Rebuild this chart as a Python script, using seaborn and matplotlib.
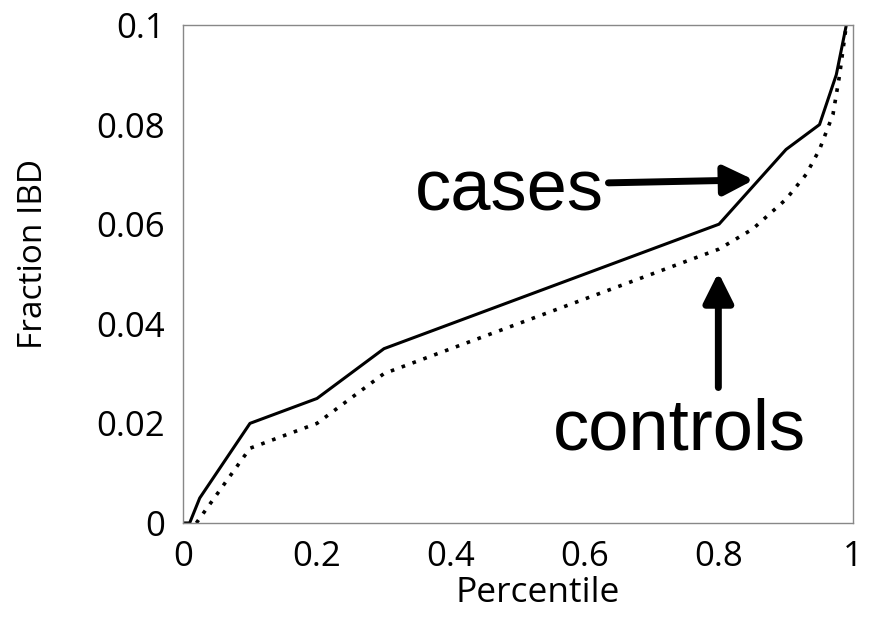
import numpy as np
import pandas as pd
import seaborn as sns
import matplotlib.pyplot as plt

# values
cases_x = [0.0, 0.01, 0.025, 0.1, 0.2, 0.3, 0.8, 0.9, 0.95, 0.975, 0.99]
cases_y = [0.0, 0.0, 0.005, 0.02, 0.025, 0.035, 0.06, 0.075, 0.08, 0.09, 0.1]
controls_x = [0.02, 0.1, 0.2, 0.3, 0.8, 0.85, 0.9, 0.93, 0.95, 0.97, 0.98, 0.99]
controls_y = [0.0, 0.015, 0.02, 0.03, 0.055, 0.059, 0.065, 0.07, 0.075, 0.082, 0.09, 0.1]
xticks = [0, 0.2, 0.4, 0.6, 0.8, 1]
yticks = [0, 0.02, 0.04, 0.06, 0.08, 0.1]
xtick_labels = ["0", "0.2", "0.4", "0.6", "0.8", "1"]
ytick_labels = ["0", "0.02", "0.04", "0.06", "0.08", "0.1"]

df_cases = pd.DataFrame({"Percentile": cases_x, "Fraction IBD": cases_y})
df_controls = pd.DataFrame({"Percentile": controls_x, "Fraction IBD": controls_y})

sns.set_style("white")
plt.rcParams["font.family"] = ["Open Sans", "DejaVu Sans"]
plt.rcParams["text.color"] = "black"
plt.rcParams["axes.labelcolor"] = "black"
plt.rcParams["xtick.labelcolor"] = "black"
plt.rcParams["ytick.labelcolor"] = "black"

fig = plt.figure(figsize=(8.7, 6.17), dpi=100)
ax = fig.add_axes([0.2103, 0.1524, 0.7702, 0.8071])

sns.lineplot(data=df_cases, x="Percentile", y="Fraction IBD", ax=ax,
             color="black", lw=2.2, sort=False, estimator=None)
sns.lineplot(data=df_controls, x="Percentile", y="Fraction IBD", ax=ax,
             color="black", lw=2.6, linestyle=(0, (1, 2.2)), sort=False, estimator=None)

ax.set_xlim(0, 1)
ax.set_ylim(0, 0.1)
ax.set_xticks(xticks)
ax.set_xticklabels(xtick_labels)
ax.set_yticks(yticks)
ax.set_yticklabels(ytick_labels)
ax.tick_params(direction="in", length=5, width=0.8, color="#777777",
               labelsize=25)
ax.tick_params(axis="x", pad=12)
ax.tick_params(axis="y", pad=13)
for s in ax.spines.values():
    s.set_color("#888888")
    s.set_linewidth(1.0)
ax.set_xlabel("Percentile", fontsize=25.5, labelpad=2)
ax.set_ylabel("Fraction IBD", fontsize=24, labelpad=33)
ax.xaxis.label.set_x(0.53)
ax.yaxis.label.set_y(0.54)

# annotations
ax.text(0.346, 0.0665, "cases", fontsize=52, family="Liberation Sans",
        color="black", va="center", ha="left")
ax.text(0.552, 0.0185, "controls", fontsize=52, family="Liberation Sans",
        color="black", va="center", ha="left")
ax.annotate("", xy=(0.852, 0.0689), xytext=(0.635, 0.0683),
            arrowprops=dict(arrowstyle="-|>", mutation_scale=45, lw=5,
                            color="black", shrinkA=0, shrinkB=0))
ax.annotate("", xy=(0.799, 0.0503), xytext=(0.799, 0.0272),
            arrowprops=dict(arrowstyle="-|>", mutation_scale=45, lw=5,
                            color="black", shrinkA=0, shrinkB=0))

fig.savefig("out.png", dpi=100)
